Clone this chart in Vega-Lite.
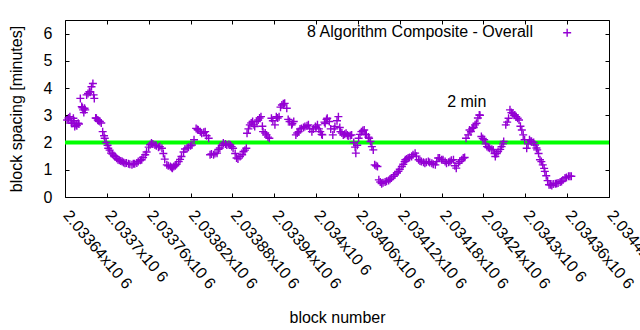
{
  "$schema": "https://vega.github.io/schema/vega-lite/v6.json",
  "width": 544,
  "height": 177,
  "autosize": {"type": "none"},
  "padding": {"left": 65, "top": 20, "right": 31, "bottom": 133},
  "background": "white",
  "config": {
    "font": "Liberation Sans",
    "view": {"stroke": "black", "strokeWidth": 1},
    "axis": {
      "domain": false,
      "grid": false,
      "tickColor": "black",
      "tickSize": -4,
      "tickWidth": 1,
      "labelColor": "black",
      "labelFontSize": 16,
      "labelFont": "Liberation Sans",
      "titleFont": "Liberation Sans",
      "titleFontSize": 16,
      "titleFontWeight": "normal",
      "titleColor": "black"
    }
  },
  "datasets": {
    "blocks": [
      {"block": 2033643, "spacing": 2.83}, {"block": 2033645, "spacing": 2.9}, {"block": 2033647, "spacing": 2.95}, {"block": 2033649, "spacing": 2.75},
      {"block": 2033650, "spacing": 2.71}, {"block": 2033652, "spacing": 2.89}, {"block": 2033653, "spacing": 2.8}, {"block": 2033654, "spacing": 2.59},
      {"block": 2033656, "spacing": 2.65}, {"block": 2033657, "spacing": 2.62}, {"block": 2033659, "spacing": 2.71}, {"block": 2033660, "spacing": 2.68},
      {"block": 2033662, "spacing": 3.62}, {"block": 2033664, "spacing": 3.32}, {"block": 2033665, "spacing": 3.28}, {"block": 2033666, "spacing": 3.2},
      {"block": 2033667, "spacing": 3.1}, {"block": 2033668, "spacing": 3.26}, {"block": 2033669, "spacing": 3.2}, {"block": 2033671, "spacing": 3.75},
      {"block": 2033673, "spacing": 3.8}, {"block": 2033675, "spacing": 3.87}, {"block": 2033676, "spacing": 3.85}, {"block": 2033678, "spacing": 4.05},
      {"block": 2033680, "spacing": 4.17}, {"block": 2033681, "spacing": 3.75}, {"block": 2033682, "spacing": 3.62}, {"block": 2033684, "spacing": 2.9},
      {"block": 2033685, "spacing": 2.89}, {"block": 2033687, "spacing": 2.83}, {"block": 2033688, "spacing": 2.8}, {"block": 2033690, "spacing": 2.77},
      {"block": 2033692, "spacing": 2.72}, {"block": 2033694, "spacing": 2.4}, {"block": 2033696, "spacing": 2.25}, {"block": 2033697, "spacing": 2.16},
      {"block": 2033699, "spacing": 2.0}, {"block": 2033701, "spacing": 1.9}, {"block": 2033702, "spacing": 1.79}, {"block": 2033704, "spacing": 1.72},
      {"block": 2033706, "spacing": 1.61}, {"block": 2033708, "spacing": 1.58}, {"block": 2033710, "spacing": 1.52}, {"block": 2033712, "spacing": 1.49},
      {"block": 2033714, "spacing": 1.42}, {"block": 2033716, "spacing": 1.37}, {"block": 2033718, "spacing": 1.35}, {"block": 2033720, "spacing": 1.32},
      {"block": 2033722, "spacing": 1.3}, {"block": 2033724, "spacing": 1.27}, {"block": 2033726, "spacing": 1.24}, {"block": 2033728, "spacing": 1.25},
      {"block": 2033731, "spacing": 1.22}, {"block": 2033733, "spacing": 1.2}, {"block": 2033736, "spacing": 1.18}, {"block": 2033738, "spacing": 1.22},
      {"block": 2033740, "spacing": 1.22}, {"block": 2033743, "spacing": 1.25}, {"block": 2033745, "spacing": 1.3}, {"block": 2033748, "spacing": 1.35},
      {"block": 2033750, "spacing": 1.37}, {"block": 2033752, "spacing": 1.45}, {"block": 2033755, "spacing": 1.55}, {"block": 2033757, "spacing": 1.65},
      {"block": 2033760, "spacing": 1.83}, {"block": 2033762, "spacing": 1.92}, {"block": 2033764, "spacing": 1.98}, {"block": 2033766, "spacing": 1.95},
      {"block": 2033769, "spacing": 1.91}, {"block": 2033771, "spacing": 1.88}, {"block": 2033774, "spacing": 1.83}, {"block": 2033776, "spacing": 1.85},
      {"block": 2033779, "spacing": 1.79}, {"block": 2033781, "spacing": 1.6}, {"block": 2033783, "spacing": 1.39}, {"block": 2033786, "spacing": 1.18},
      {"block": 2033788, "spacing": 1.15}, {"block": 2033791, "spacing": 1.12}, {"block": 2033793, "spacing": 1.08}, {"block": 2033794, "spacing": 1.06},
      {"block": 2033796, "spacing": 1.12}, {"block": 2033798, "spacing": 1.15}, {"block": 2033800, "spacing": 1.2}, {"block": 2033803, "spacing": 1.3},
      {"block": 2033805, "spacing": 1.38}, {"block": 2033807, "spacing": 1.49}, {"block": 2033810, "spacing": 1.65}, {"block": 2033812, "spacing": 1.76},
      {"block": 2033815, "spacing": 1.8}, {"block": 2033817, "spacing": 1.83}, {"block": 2033820, "spacing": 1.88}, {"block": 2033822, "spacing": 1.91},
      {"block": 2033825, "spacing": 2.1}, {"block": 2033828, "spacing": 2.52}, {"block": 2033830, "spacing": 2.48}, {"block": 2033831, "spacing": 2.46},
      {"block": 2033834, "spacing": 2.4}, {"block": 2033836, "spacing": 2.34}, {"block": 2033839, "spacing": 2.38}, {"block": 2033841, "spacing": 2.4},
      {"block": 2033843, "spacing": 2.25}, {"block": 2033846, "spacing": 2.16}, {"block": 2033848, "spacing": 1.55}, {"block": 2033850, "spacing": 1.58},
      {"block": 2033853, "spacing": 1.55}, {"block": 2033855, "spacing": 1.6}, {"block": 2033858, "spacing": 1.61}, {"block": 2033860, "spacing": 1.75},
      {"block": 2033862, "spacing": 1.8}, {"block": 2033865, "spacing": 1.9}, {"block": 2033867, "spacing": 1.98}, {"block": 2033870, "spacing": 1.95},
      {"block": 2033872, "spacing": 1.91}, {"block": 2033875, "spacing": 1.93}, {"block": 2033877, "spacing": 1.91}, {"block": 2033879, "spacing": 1.85},
      {"block": 2033881, "spacing": 1.79}, {"block": 2033884, "spacing": 1.6}, {"block": 2033886, "spacing": 1.43}, {"block": 2033888, "spacing": 1.4},
      {"block": 2033891, "spacing": 1.49}, {"block": 2033894, "spacing": 1.55}, {"block": 2033896, "spacing": 1.67}, {"block": 2033898, "spacing": 1.72},
      {"block": 2033900, "spacing": 1.79}, {"block": 2033901, "spacing": 2.34}, {"block": 2033903, "spacing": 2.5}, {"block": 2033905, "spacing": 2.65},
      {"block": 2033907, "spacing": 2.72}, {"block": 2033909, "spacing": 2.77}, {"block": 2033911, "spacing": 2.65}, {"block": 2033912, "spacing": 2.59},
      {"block": 2033915, "spacing": 2.77}, {"block": 2033917, "spacing": 2.83}, {"block": 2033919, "spacing": 2.9}, {"block": 2033921, "spacing": 2.95},
      {"block": 2033923, "spacing": 2.6}, {"block": 2033924, "spacing": 2.4}, {"block": 2033927, "spacing": 2.35}, {"block": 2033929, "spacing": 2.28},
      {"block": 2033931, "spacing": 2.2}, {"block": 2033933, "spacing": 2.16}, {"block": 2033936, "spacing": 2.89}, {"block": 2033938, "spacing": 2.8},
      {"block": 2033941, "spacing": 2.65}, {"block": 2033943, "spacing": 2.95}, {"block": 2033945, "spacing": 2.9}, {"block": 2033947, "spacing": 2.95},
      {"block": 2033949, "spacing": 3.3}, {"block": 2033951, "spacing": 3.38}, {"block": 2033953, "spacing": 3.42}, {"block": 2033955, "spacing": 3.44},
      {"block": 2033958, "spacing": 3.26}, {"block": 2033960, "spacing": 2.85}, {"block": 2033962, "spacing": 2.77}, {"block": 2033965, "spacing": 2.65},
      {"block": 2033966, "spacing": 2.7}, {"block": 2033968, "spacing": 2.77}, {"block": 2033971, "spacing": 2.28}, {"block": 2033973, "spacing": 2.35},
      {"block": 2033975, "spacing": 2.4}, {"block": 2033977, "spacing": 2.5}, {"block": 2033979, "spacing": 2.52}, {"block": 2033982, "spacing": 2.55},
      {"block": 2033984, "spacing": 2.59}, {"block": 2033987, "spacing": 2.62}, {"block": 2033989, "spacing": 2.65}, {"block": 2033991, "spacing": 2.5},
      {"block": 2033994, "spacing": 2.4}, {"block": 2033996, "spacing": 2.5}, {"block": 2033999, "spacing": 2.59}, {"block": 2034000, "spacing": 2.55},
      {"block": 2034002, "spacing": 2.65}, {"block": 2034004, "spacing": 2.5}, {"block": 2034006, "spacing": 2.4}, {"block": 2034008, "spacing": 2.3},
      {"block": 2034009, "spacing": 2.28}, {"block": 2034012, "spacing": 2.75}, {"block": 2034013, "spacing": 2.7}, {"block": 2034015, "spacing": 2.85},
      {"block": 2034016, "spacing": 2.89}, {"block": 2034019, "spacing": 2.77}, {"block": 2034021, "spacing": 2.5}, {"block": 2034024, "spacing": 2.28},
      {"block": 2034026, "spacing": 2.5}, {"block": 2034027, "spacing": 2.59}, {"block": 2034030, "spacing": 2.8}, {"block": 2034032, "spacing": 2.95},
      {"block": 2034034, "spacing": 2.55}, {"block": 2034035, "spacing": 2.4}, {"block": 2034037, "spacing": 2.35}, {"block": 2034039, "spacing": 2.28},
      {"block": 2034041, "spacing": 2.3}, {"block": 2034043, "spacing": 2.34}, {"block": 2034045, "spacing": 2.28}, {"block": 2034046, "spacing": 2.24},
      {"block": 2034049, "spacing": 2.26}, {"block": 2034051, "spacing": 2.28}, {"block": 2034054, "spacing": 2.0}, {"block": 2034056, "spacing": 1.83},
      {"block": 2034057, "spacing": 1.61}, {"block": 2034059, "spacing": 1.9}, {"block": 2034061, "spacing": 2.16}, {"block": 2034063, "spacing": 2.3},
      {"block": 2034065, "spacing": 2.4}, {"block": 2034067, "spacing": 2.44}, {"block": 2034069, "spacing": 2.46}, {"block": 2034071, "spacing": 2.3},
      {"block": 2034072, "spacing": 2.28}, {"block": 2034075, "spacing": 2.2}, {"block": 2034076, "spacing": 2.16}, {"block": 2034078, "spacing": 2.04},
      {"block": 2034080, "spacing": 1.85}, {"block": 2034082, "spacing": 1.73}, {"block": 2034084, "spacing": 1.18}, {"block": 2034086, "spacing": 1.15},
      {"block": 2034088, "spacing": 1.12}, {"block": 2034090, "spacing": 0.63}, {"block": 2034092, "spacing": 0.55}, {"block": 2034094, "spacing": 0.49},
      {"block": 2034096, "spacing": 0.52}, {"block": 2034099, "spacing": 0.55}, {"block": 2034101, "spacing": 0.58}, {"block": 2034104, "spacing": 0.61},
      {"block": 2034106, "spacing": 0.65}, {"block": 2034108, "spacing": 0.7}, {"block": 2034111, "spacing": 0.76}, {"block": 2034113, "spacing": 0.82},
      {"block": 2034116, "spacing": 0.88}, {"block": 2034118, "spacing": 0.94}, {"block": 2034120, "spacing": 1.02}, {"block": 2034123, "spacing": 1.12},
      {"block": 2034125, "spacing": 1.2}, {"block": 2034127, "spacing": 1.3}, {"block": 2034128, "spacing": 1.37}, {"block": 2034130, "spacing": 1.4},
      {"block": 2034132, "spacing": 1.43}, {"block": 2034134, "spacing": 1.45}, {"block": 2034137, "spacing": 1.49}, {"block": 2034139, "spacing": 1.55},
      {"block": 2034142, "spacing": 1.61}, {"block": 2034144, "spacing": 1.5}, {"block": 2034147, "spacing": 1.37}, {"block": 2034149, "spacing": 1.32},
      {"block": 2034151, "spacing": 1.3}, {"block": 2034154, "spacing": 1.28}, {"block": 2034156, "spacing": 1.24}, {"block": 2034158, "spacing": 1.28},
      {"block": 2034161, "spacing": 1.3}, {"block": 2034163, "spacing": 1.27}, {"block": 2034166, "spacing": 1.24}, {"block": 2034168, "spacing": 1.2},
      {"block": 2034171, "spacing": 1.18}, {"block": 2034173, "spacing": 1.3}, {"block": 2034175, "spacing": 1.43}, {"block": 2034177, "spacing": 1.43},
      {"block": 2034180, "spacing": 1.37}, {"block": 2034182, "spacing": 1.37}, {"block": 2034185, "spacing": 1.3}, {"block": 2034187, "spacing": 1.24},
      {"block": 2034190, "spacing": 1.28}, {"block": 2034192, "spacing": 1.3}, {"block": 2034194, "spacing": 1.35}, {"block": 2034197, "spacing": 1.37},
      {"block": 2034199, "spacing": 1.15}, {"block": 2034201, "spacing": 1.06}, {"block": 2034204, "spacing": 1.24}, {"block": 2034206, "spacing": 1.3},
      {"block": 2034209, "spacing": 1.37}, {"block": 2034211, "spacing": 1.43}, {"block": 2034213, "spacing": 1.45}, {"block": 2034215, "spacing": 2.16},
      {"block": 2034218, "spacing": 2.28}, {"block": 2034220, "spacing": 2.46}, {"block": 2034222, "spacing": 2.4}, {"block": 2034224, "spacing": 2.52},
      {"block": 2034226, "spacing": 2.55}, {"block": 2034228, "spacing": 2.65}, {"block": 2034230, "spacing": 2.71}, {"block": 2034232, "spacing": 2.9},
      {"block": 2034234, "spacing": 3.01}, {"block": 2034235, "spacing": 3.0}, {"block": 2034237, "spacing": 2.22}, {"block": 2034239, "spacing": 2.15},
      {"block": 2034241, "spacing": 2.1}, {"block": 2034243, "spacing": 1.95}, {"block": 2034245, "spacing": 1.85}, {"block": 2034247, "spacing": 1.82},
      {"block": 2034249, "spacing": 1.79}, {"block": 2034252, "spacing": 1.75}, {"block": 2034254, "spacing": 1.73}, {"block": 2034256, "spacing": 1.6},
      {"block": 2034257, "spacing": 1.49}, {"block": 2034259, "spacing": 1.6}, {"block": 2034261, "spacing": 1.67}, {"block": 2034264, "spacing": 1.75},
      {"block": 2034266, "spacing": 1.85}, {"block": 2034268, "spacing": 1.95}, {"block": 2034269, "spacing": 2.04}, {"block": 2034272, "spacing": 2.65},
      {"block": 2034274, "spacing": 2.75}, {"block": 2034276, "spacing": 2.89}, {"block": 2034278, "spacing": 3.2}, {"block": 2034280, "spacing": 3.1},
      {"block": 2034282, "spacing": 3.07}, {"block": 2034284, "spacing": 3.0}, {"block": 2034285, "spacing": 3.01}, {"block": 2034287, "spacing": 2.95},
      {"block": 2034289, "spacing": 2.89}, {"block": 2034291, "spacing": 2.83}, {"block": 2034293, "spacing": 2.6}, {"block": 2034295, "spacing": 2.46},
      {"block": 2034297, "spacing": 2.28}, {"block": 2034299, "spacing": 2.1}, {"block": 2034302, "spacing": 1.79}, {"block": 2034304, "spacing": 1.95},
      {"block": 2034306, "spacing": 2.1}, {"block": 2034308, "spacing": 2.05}, {"block": 2034309, "spacing": 2.04}, {"block": 2034312, "spacing": 2.0},
      {"block": 2034314, "spacing": 1.91}, {"block": 2034316, "spacing": 1.8}, {"block": 2034317, "spacing": 1.73}, {"block": 2034319, "spacing": 1.6},
      {"block": 2034321, "spacing": 1.37}, {"block": 2034323, "spacing": 1.3}, {"block": 2034325, "spacing": 1.18}, {"block": 2034327, "spacing": 1.05},
      {"block": 2034328, "spacing": 0.94}, {"block": 2034330, "spacing": 0.78}, {"block": 2034332, "spacing": 0.6}, {"block": 2034334, "spacing": 0.45},
      {"block": 2034336, "spacing": 0.45}, {"block": 2034338, "spacing": 0.42}, {"block": 2034340, "spacing": 0.48}, {"block": 2034343, "spacing": 0.49},
      {"block": 2034345, "spacing": 0.5}, {"block": 2034347, "spacing": 0.51}, {"block": 2034350, "spacing": 0.55}, {"block": 2034352, "spacing": 0.57},
      {"block": 2034354, "spacing": 0.62}, {"block": 2034357, "spacing": 0.7}, {"block": 2034359, "spacing": 0.72}, {"block": 2034362, "spacing": 0.76},
      {"block": 2034364, "spacing": 0.76}, {"block": 2034366, "spacing": 0.76}
    ]
  },
  "resolve": {"axis": {"x": "independent", "y": "independent"}},
  "layer": [
    {
      "data": {"values": [{"level": 2}]},
      "mark": {"type": "rule", "color": "#00ff00", "strokeWidth": 4},
      "encoding": {
        "y": {"field": "level", "type": "quantitative", "axis": null}
      }
    },
    {
      "data": {"name": "blocks"},
      "mark": {"type": "point", "shape": "M-1,0H1M0,-1V1", "filled": false, "color": "#9400d3", "strokeWidth": 1.4, "size": 64, "opacity": 1},
      "encoding": {
        "x": {
          "field": "block", "type": "quantitative",
          "scale": {"domain": [2033640, 2034420], "nice": false, "zero": false},
          "axis": {
            "orient": "bottom",
            "values": [2033640, 2033700, 2033760, 2033820, 2033880, 2033940, 2034000, 2034060, 2034120, 2034180, 2034240, 2034300, 2034360, 2034420],
            "labelExpr": "format(datum.value / 1000000, '.5~f') + 'x10 6'",
            "labelAngle": 50,
            "labelAlign": "left",
            "labelBaseline": "top",
            "labelPadding": 14,
            "labelOffset": 7,
            "labelOverlap": false,
            "labelBound": false,
            "labelFlush": false,
            "title": "block number",
            "titlePadding": 18
          }
        },
        "y": {
          "field": "spacing", "type": "quantitative",
          "scale": {"domain": [0, 6.5], "nice": false, "zero": false},
          "axis": {
            "orient": "left",
            "values": [0, 1, 2, 3, 4, 5, 6],
            "labelPadding": 17,
            "title": "block spacing [minutes]",
            "titlePadding": 19
          }
        }
      }
    },
    {
      "data": {"values": [{"label": "8 Algorithm Composite - Overall"}]},
      "mark": {"type": "text", "align": "right", "baseline": "middle", "fontSize": 16, "color": "black"},
      "encoding": {
        "x": {
          "datum": 2034311, "type": "quantitative",
          "axis": {
            "orient": "top",
            "values": [2033640, 2033700, 2033760, 2033820, 2033880, 2033940, 2034000, 2034060, 2034120, 2034180, 2034240, 2034300, 2034360, 2034420],
            "labels": false,
            "title": null
          }
        },
        "y": {
          "datum": 6.06, "type": "quantitative",
          "axis": {"orient": "right", "values": [0, 1, 2, 3, 4, 5, 6], "labels": false, "title": null}
        },
        "text": {"field": "label"}
      }
    },
    {
      "data": {"values": [{"series": "8 Algorithm Composite - Overall"}]},
      "mark": {"type": "point", "shape": "M-1,0H1M0,-1V1", "filled": false, "color": "#9400d3", "strokeWidth": 1.4, "size": 64, "opacity": 1},
      "encoding": {
        "x": {"datum": 2034360, "type": "quantitative", "axis": null},
        "y": {"datum": 6.03, "type": "quantitative", "axis": null}
      }
    },
    {
      "data": {"values": [{"label": "2 min"}]},
      "mark": {"type": "text", "align": "left", "baseline": "middle", "fontSize": 16, "color": "black"},
      "encoding": {
        "x": {"datum": 2034188, "type": "quantitative", "axis": null},
        "y": {"datum": 3.5, "type": "quantitative", "axis": null},
        "text": {"field": "label"}
      }
    }
  ]
}
